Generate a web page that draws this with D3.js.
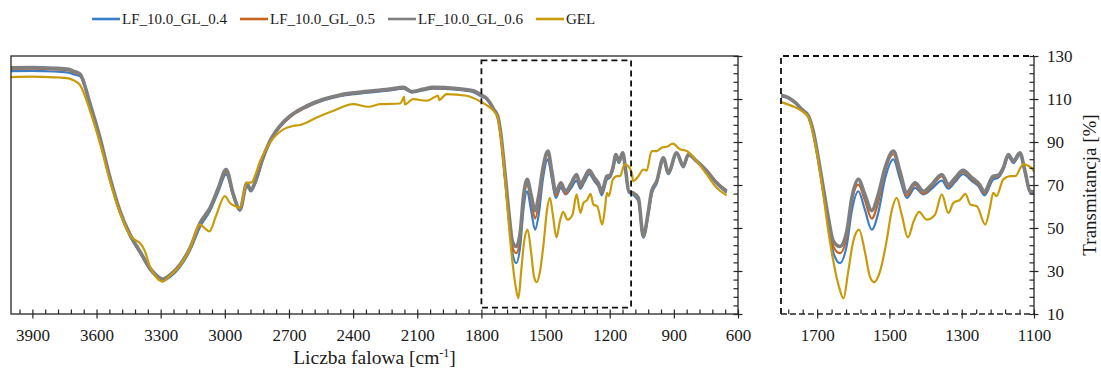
<!DOCTYPE html>
<html>
<head>
<meta charset="utf-8">
<script src="https://cdn.jsdelivr.net/npm/d3@7"></script>
<style>
    body { margin: 0; background: #fff; }
</style>
</head>
<body>
<svg id="chart" width="1101" height="370"></svg>
<script>
// ---- data ----
const seriesNames = ["LF_10.0_GL_0.4", "LF_10.0_GL_0.5", "LF_10.0_GL_0.6", "GEL"];
const seriesColors = ["#3b7dc6", "#c9621f", "#7f7f7f", "#c89b0a"];

// shared wavenumber grid of the three LF samples
const wavenumberLF = [
    4000, 3900, 3800, 3730, 3710, 3677, 3630, 3584, 3537, 3490,
    3443, 3397, 3350, 3303, 3290, 3256, 3210, 3163, 3116, 3069,
    3030, 2994, 2960, 2929, 2897, 2879, 2851, 2827, 2789, 2742,
    2695, 2617, 2539, 2461, 2383, 2305, 2227, 2165, 2126, 2072,
    2025, 1916, 1838, 1800, 1780, 1761, 1743, 1724, 1711, 1697,
    1683, 1669, 1655, 1637, 1618, 1604, 1586, 1568, 1549, 1531,
    1512, 1489, 1471, 1452, 1429, 1406, 1383, 1355, 1337, 1318,
    1296, 1272, 1254, 1237, 1213, 1199, 1185, 1171, 1157, 1139,
    1125, 1111, 1097, 1066, 1043, 1019, 1004, 980, 949, 926,
    887, 856, 832, 793, 746, 700, 653
];
const lf04 = [
    123.0, 123.1, 122.8, 122.3, 121.5, 120.5, 107.0, 91.5, 73.0, 57.0,
    46.0, 38.5, 30.5, 26.0, 25.4, 27.2, 31.8, 39.5, 50.5, 58.0,
    67.0, 74.9, 64.5, 58.0, 69.5, 67.0, 72.5, 80.5, 90.0, 97.0,
    101.6, 106.2, 109.3, 111.3, 112.4, 113.2, 114.0, 114.8, 113.0, 114.0,
    114.8, 114.3, 113.2, 111.2, 110.4, 108.2, 105.0, 101.8, 94.5, 81.5,
    66.5, 51.5, 38.5, 33.7, 42.0, 58.0, 67.1, 58.5, 49.2, 57.0,
    73.0, 81.9, 73.0, 64.0, 68.7, 65.6, 68.2, 72.0, 68.3, 71.5,
    75.0, 71.8, 69.5, 65.2, 72.5, 73.4, 77.0, 83.0, 80.2, 84.0,
    75.8, 66.5, 65.8, 62.5, 45.5, 56.5, 65.5, 70.8, 82.0, 75.0,
    84.4, 78.2, 83.8, 80.8, 76.2, 70.6, 66.5
];
const lf05 = [
    124.0, 124.1, 123.8, 123.3, 122.5, 121.2, 107.4, 91.8, 73.2, 57.5,
    46.6, 38.8, 31.0, 26.4, 25.9, 27.9, 32.5, 40.2, 51.6, 58.9,
    68.2, 76.1, 65.1, 58.3, 70.3, 67.5, 73.0, 80.8, 90.1, 97.0,
    101.6, 106.3, 109.5, 111.5, 112.7, 113.5, 114.3, 115.0, 113.2, 114.3,
    115.1, 114.6, 113.5, 111.5, 110.5, 108.3, 105.1, 101.9, 94.8, 82.1,
    67.6, 53.1, 41.3, 38.3, 46.0, 62.5, 70.2, 63.0, 54.4, 62.0,
    76.5, 84.3, 75.0, 65.0, 70.0, 66.0, 69.3, 74.0, 69.3, 72.5,
    76.0, 72.6, 70.2, 66.2, 73.5, 74.0, 77.5, 83.8, 80.6, 84.5,
    76.0, 67.0, 66.8, 63.8, 46.0, 57.5, 66.8, 71.6, 82.6, 75.6,
    84.9, 78.8, 84.2, 81.2, 76.7, 71.3, 67.4
];
const lf06 = [
    124.5, 124.6, 124.3, 123.8, 123.0, 121.6, 107.6, 92.0, 73.4, 57.8,
    46.9, 39.1, 31.3, 26.7, 26.2, 28.2, 32.9, 40.7, 52.3, 59.4,
    68.7, 77.2, 65.6, 58.6, 70.8, 67.9, 73.4, 81.1, 90.4, 97.5,
    102.1, 106.8, 109.9, 111.9, 113.0, 113.8, 114.6, 115.4, 113.5, 114.6,
    115.4, 114.9, 113.8, 111.8, 110.7, 108.4, 105.3, 102.1, 95.1, 82.7,
    68.7, 54.7, 43.8, 41.4, 48.4, 64.0, 72.6, 65.6, 58.1, 65.6,
    78.0, 85.8, 76.5, 66.5, 71.0, 67.1, 70.2, 74.9, 70.2, 73.4,
    76.8, 73.4, 71.0, 67.1, 74.1, 74.5, 78.0, 84.2, 81.1, 85.0,
    76.5, 67.1, 66.6, 64.0, 46.3, 57.8, 67.1, 71.8, 82.7, 75.7,
    85.0, 78.8, 84.2, 81.1, 76.5, 71.0, 67.1
];

const wavenumberGel = [
    4000, 3900, 3800, 3730, 3710, 3677, 3630, 3584, 3537, 3490,
    3443, 3420, 3397, 3375, 3350, 3320, 3290, 3256, 3210, 3163,
    3116, 3090, 3072, 3040, 3000, 2975, 2950, 2929, 2898, 2874,
    2860, 2835, 2789, 2726, 2679, 2648, 2570, 2492, 2399, 2329,
    2274, 2181, 2165, 2162, 2158, 2119, 2056, 2008, 2002, 1998,
    1963, 1869, 1800, 1770, 1743, 1724, 1711, 1697, 1683, 1669,
    1655, 1641, 1627, 1614, 1600, 1584, 1568, 1554, 1542, 1526,
    1508, 1494, 1480, 1466, 1449, 1433, 1418, 1397, 1374, 1355,
    1337, 1323, 1304, 1290, 1276, 1258, 1235, 1222, 1213, 1204,
    1185, 1166, 1152, 1130, 1116, 1097, 1090, 1066, 1043, 1027,
    1004, 980, 957, 933, 905, 871, 840, 793, 746, 700, 653
];
const gel = [
    120.2, 120.4, 120.1, 119.6, 118.8, 116.5, 104.4, 89.5, 71.8, 57.0,
    46.6, 44.5, 43.0, 39.5, 32.0, 27.0, 25.1, 27.8, 32.5, 40.5,
    51.6, 49.5, 48.4, 56.0, 64.8, 61.5, 60.1, 59.3, 71.0, 71.2,
    74.0, 81.1, 89.7, 95.9, 97.5, 97.9, 101.4, 104.5, 107.6, 106.4,
    107.6, 107.9, 110.5, 111.0, 107.5, 109.9, 109.2, 111.4, 111.5, 109.5,
    112.3, 111.5, 108.6, 106.8, 104.5, 101.4, 93.6, 81.1, 65.6, 48.4,
    34.4, 23.5, 17.3, 29.8, 43.8, 49.2, 39.1, 27.4, 24.8, 29.8,
    43.8, 57.8, 64.0, 56.2, 45.6, 53.1, 57.5, 53.9, 56.2, 65.6,
    57.0, 61.7, 63.2, 65.9, 60.9, 60.1, 51.6, 59.3, 66.4, 64.8,
    72.6, 74.1, 74.1, 79.6, 79.0, 75.7, 71.8, 74.1, 77.2, 76.7,
    85.8, 85.8, 87.4, 87.8, 89.2, 86.6, 85.8, 81.1, 74.9, 68.7, 65.2
];

const xTicksMain = [3900, 3600, 3300, 3000, 2700, 2400, 2100, 1800, 1500, 1200, 900, 600];
const xTicksZoom = [1700, 1500, 1300, 1100];
const yTicks = [10, 30, 50, 70, 90, 110, 130];
const zoomWindow = [1800, 1100];   // wavenumbers of the dashed box
const zoomBoxY = [13, 128];        // transmittance extent of the dashed box

// ---- layout ----
const FONT = "Liberation Serif, Tinos, Times New Roman, Times, Noto Serif, DejaVu Serif, FreeSerif, serif";
const svg = d3.select("#chart");
const plotTop = 56, plotBottom = 314;

const y = d3.scaleLinear().domain([10, 130]).range([plotBottom, plotTop]);
const xMain = d3.scaleLinear().domain([4000, 600]).range([11, 738]);
const xZoom = d3.scaleLinear().domain([1800, 1100]).range([781, 1034]);

const series = [
    {name: seriesNames[0], color: seriesColors[0], width: 2.2, data: wavenumberLF.map((w, i) => [w, lf04[i]])},
    {name: seriesNames[1], color: seriesColors[1], width: 2.2, data: wavenumberLF.map((w, i) => [w, lf05[i]])},
    {name: seriesNames[2], color: seriesColors[2], width: 3.6, data: wavenumberLF.map((w, i) => [w, lf06[i]])},
    {name: seriesNames[3], color: seriesColors[3], width: 2.2, data: wavenumberGel.map((w, i) => [w, gel[i]])}
];

function drawCurves(x, clipId) {
    const [x0, x1] = x.range();
    svg.append("clipPath").attr("id", clipId)
        .append("rect")
        .attr("x", x0).attr("y", plotTop)
        .attr("width", x1 - x0).attr("height", plotBottom - plotTop);

    const line = d3.line()
        .x(d => x(d[0]))
        .y(d => y(d[1]))
        .curve(d3.curveMonotoneX);

    svg.append("g")
        .attr("clip-path", `url(#${clipId})`)
        .selectAll("path")
        .data(series)
        .enter()
        .append("path")
        .attr("fill", "none")
        .attr("stroke", d => d.color)
        .attr("stroke-width", d => d.width)
        .attr("stroke-linejoin", "round")
        .attr("d", d => line(d.data));
}

// bottom axis: crossing major ticks, minor ticks inside, labels below
function drawBottomAxis(x, majors, minors) {
    const g = svg.append("g").attr("transform", `translate(0,${plotBottom})`);
    g.append("g")
        .call(d3.axisBottom(x).tickValues(majors).tickSizeInner(4.5).tickSizeOuter(0).tickFormat(""))
        .call(a => a.select(".domain").remove());
    g.append("g")
        .call(d3.axisBottom(x).tickValues(majors.concat(minors)).tickSizeInner(-4.5).tickSizeOuter(0).tickFormat(""))
        .call(a => a.select(".domain").remove());
    g.append("g")
        .call(d3.axisBottom(x).tickValues(majors).tickSize(0).tickPadding(15).tickFormat(d3.format("d")))
        .call(a => a.select(".domain").remove())
        .attr("font-family", FONT)
        .attr("font-size", 17)
        .selectAll("text")
        .attr("fill", "#1a1a1a");
    g.selectAll("line").attr("stroke", "#262626").attr("stroke-width", 1.2);
}

// right axis: crossing major ticks, minor ticks inside
function drawRightAxis(xPos, withLabels) {
    const minors = d3.range(14, 130, 4).filter(v => (v - 10) % 20 !== 0);
    const g = svg.append("g").attr("transform", `translate(${xPos},0)`);
    g.append("g")
        .call(d3.axisRight(y).tickValues(yTicks).tickSizeInner(4.5).tickSizeOuter(0).tickFormat(""))
        .call(a => a.select(".domain").remove());
    g.append("g")
        .call(d3.axisRight(y).tickValues(yTicks.concat(minors)).tickSizeInner(-4.5).tickSizeOuter(0).tickFormat(""))
        .call(a => a.select(".domain").remove());
    if (withLabels) {
        g.append("g")
            .call(d3.axisRight(y).tickValues(yTicks).tickSize(0).tickPadding(13))
            .call(a => a.select(".domain").remove())
            .attr("font-family", FONT)
            .attr("font-size", 17)
            .selectAll("text")
            .attr("fill", "#1a1a1a");
    }
    g.selectAll("line").attr("stroke", "#262626").attr("stroke-width", 1.2);
}

// ---- main panel ----
drawCurves(xMain, "clipMain");

svg.append("rect")
    .attr("x", xMain.range()[0]).attr("y", plotTop)
    .attr("width", xMain.range()[1] - xMain.range()[0])
    .attr("height", plotBottom - plotTop)
    .attr("fill", "none")
    .attr("stroke", "#262626")
    .attr("stroke-width", 1.3);

drawBottomAxis(xMain, xTicksMain, d3.range(660, 4000, 60).filter(w => (w - 600) % 300 !== 0));
drawRightAxis(xMain.range()[1], false);

// dashed box marking the zoomed range
svg.append("rect")
    .attr("x", xMain(zoomWindow[0]))
    .attr("y", y(zoomBoxY[1]))
    .attr("width", xMain(zoomWindow[1]) - xMain(zoomWindow[0]))
    .attr("height", y(zoomBoxY[0]) - y(zoomBoxY[1]))
    .attr("fill", "none")
    .attr("stroke", "#111")
    .attr("stroke-width", 1.8)
    .attr("stroke-dasharray", "6,4");

// ---- zoom panel ----
drawCurves(xZoom, "clipZoom");

const [zx0, zx1] = xZoom.range();
svg.append("path")
    .attr("d", `M${zx0},${plotBottom} V${plotTop} H${zx1}`)
    .attr("fill", "none")
    .attr("stroke", "#111")
    .attr("stroke-width", 1.8)
    .attr("stroke-dasharray", "6,4");
svg.append("line")
    .attr("x1", zx0).attr("x2", zx1)
    .attr("y1", plotBottom).attr("y2", plotBottom)
    .attr("stroke", "#262626")
    .attr("stroke-width", 1.3)
    .attr("stroke-dasharray", "6,3");
svg.append("line")
    .attr("x1", zx1).attr("x2", zx1)
    .attr("y1", plotTop).attr("y2", plotBottom)
    .attr("stroke", "#262626")
    .attr("stroke-width", 1.3);

drawBottomAxis(xZoom, xTicksZoom, d3.range(1140, 1800, 40).filter(w => (w - 1100) % 200 !== 0));
drawRightAxis(zx1, true);

// ---- titles ----
const xTitle = svg.append("text")
    .attr("x", (xMain.range()[0] + xMain.range()[1]) / 2)
    .attr("y", 364)
    .attr("text-anchor", "middle")
    .attr("fill", "#1a1a1a")
    .attr("font-family", FONT)
    .attr("font-size", 19.5);
xTitle.append("tspan").text("Liczba falowa [cm");
xTitle.append("tspan").attr("dy", "-7").attr("font-size", 12).text("-1");
xTitle.append("tspan").attr("dy", "7").text("]");

svg.append("text")
    .attr("transform", `translate(1096,${(plotTop + plotBottom) / 2}) rotate(-90)`)
    .attr("text-anchor", "middle")
    .attr("fill", "#1a1a1a")
    .attr("font-family", FONT)
    .attr("font-size", 19)
    .text("Transmitancja [%]");

// ---- legend ----
const legend = svg.append("g").attr("transform", "translate(92,19)");
const items = legend.selectAll("g")
    .data(series)
    .enter()
    .append("g")
    .attr("transform", (d, i) => `translate(${i * 148},0)`);
items.append("line")
    .attr("x1", 0).attr("x2", 28)
    .attr("stroke", d => d.color)
    .attr("stroke-width", 2.6);
items.append("text")
    .attr("x", 30)
    .attr("dy", "0.35em")
    .attr("fill", "#1a1a1a")
    .attr("font-family", FONT)
    .attr("font-size", 15)
    .text(d => d.name);
</script>
</body>
</html>
